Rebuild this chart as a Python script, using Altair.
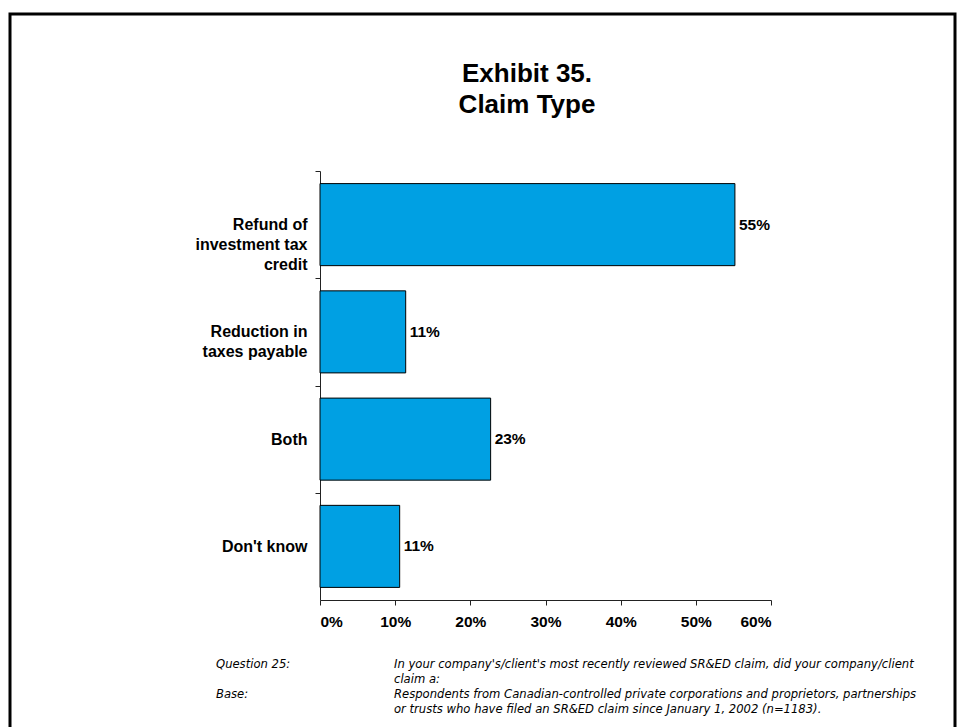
import altair as alt
import pandas as pd

# ---- data ----
CATEGORIES = [
    "Refund of\ninvestment tax\ncredit",
    "Reduction in\ntaxes payable",
    "Both",
    "Don't know",
]
VALUES = [55.2, 11.4, 22.7, 10.6]
LABELS = ["55%", "11%", "23%", "11%"]
X_TICKS = [0, 10, 20, 30, 40, 50, 60]

TITLE_LINES = ["Exhibit 35.", "Claim Type"]
FOOT_LABELS = ["Question 25:", "Base:"]
FOOT_TEXTS = [
    ["In your company's/client's most recently reviewed SR&ED claim, did your company/client",
     "claim a:"],
    ["Respondents from Canadian-controlled private corporations and proprietors, partnerships",
     "or trusts who have filed an SR&ED claim since January 1, 2002 (n=1183)."],
]

df = pd.DataFrame({"category": CATEGORIES, "value": VALUES, "label": LABELS})

W, H = 451, 429
PAD_L, PAD_T = 320, 171
STEP = H / len(CATEGORIES)
FONT = "Liberation Sans, Arial, sans-serif"
NARROW = "Liberation Sans Narrow, Arial Narrow, DejaVu Sans Condensed, sans-serif"

y_enc = alt.Y(
    "category:N",
    sort=CATEGORIES,
    scale=alt.Scale(paddingInner=0.235, paddingOuter=0.1175),
    axis=alt.Axis(
        title=None,
        labelExpr="split(datum.label, '\\n')",
        labelFont=FONT, labelFontSize=16, labelFontWeight="bold", labelColor="black",
        labelLineHeight=20, labelPadding=8, labelAlign="right",
        tickOffset=-STEP / 2, labelOffset=STEP / 2,
        tickSize=5, tickColor="#222", domainColor="#222",
        grid=False, labelLimit=300,
    ),
)

x_enc = alt.X(
    "value:Q",
    scale=alt.Scale(domain=[0, 60], nice=False),
    axis=alt.Axis(
        title=None, values=X_TICKS, labelExpr="datum.value + '%'",
        labelFont=FONT, labelFontSize=15.5, labelFontWeight="bold", labelColor="black",
        labelPadding=9, tickSize=5, tickColor="#222", domainColor="#222", grid=False,
    ),
)

base = alt.Chart(df)

bars = base.mark_bar(color="#00A0E3", stroke="black", strokeWidth=1).encode(x=x_enc, y=y_enc)

values_text = base.mark_text(
    align="left", baseline="middle", dx=4, font=FONT, fontSize=15.5,
    fontWeight="bold", color="black",
).encode(x="value:Q", y=alt.Y("category:N", sort=CATEGORIES), text="label:N")

one = alt.Data(values=[{}])

title = alt.Chart(one).mark_text(
    text=TITLE_LINES, align="center", baseline="alphabetic", font=FONT,
    fontSize=26, fontWeight="bold", color="black", lineHeight=31,
).encode(x=alt.value(527 - PAD_L), y=alt.value(82 - PAD_T))

layers = [bars, values_text, title]

foot_y = [664, 694]
for lab, lines, fy in zip(FOOT_LABELS, FOOT_TEXTS, foot_y):
    layers.append(
        alt.Chart(one).mark_text(
            text=lab, align="left", baseline="middle", font=NARROW, fontSize=12.9,
            fontStyle="italic", color="black",
        ).encode(x=alt.value(216 - PAD_L), y=alt.value(fy - PAD_T))
    )
    layers.append(
        alt.Chart(one).mark_text(
            text=lines, align="left", baseline="middle", font=NARROW, fontSize=12.9,
            fontStyle="italic", color="black", lineHeight=14.5,
        ).encode(x=alt.value(394 - PAD_L), y=alt.value(fy - PAD_T))
    )

border = alt.Chart(one).mark_rect(
    fill=None, stroke="black", strokeWidth=3, clip=False,
).encode(
    x=alt.value(10 - PAD_L), x2=alt.value(955 - PAD_L),
    y=alt.value(14 - PAD_T), y2=alt.value(760 - PAD_T),
)
layers.append(border)

chart = alt.layer(*layers).properties(
    width=W, height=H,
    autosize=alt.AutoSizeParams(type="none"),
    padding={"left": PAD_L, "top": PAD_T, "right": 957 - PAD_L - W, "bottom": 727 - PAD_T - H},
    background="white",
).configure_view(stroke=None)

chart.save("out.html", embed_options={"renderer": "svg", "actions": False})
